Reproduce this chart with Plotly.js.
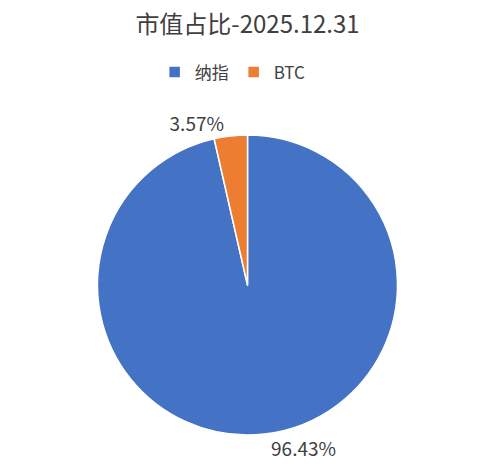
<!DOCTYPE html>
<html>
<head>
<meta charset="utf-8">
<script src="https://cdn.plot.ly/plotly-3.0.1.min.js"></script>
<style>html,body{margin:0;padding:0;background:#fff;}#chart{width:495px;height:468px;}</style>
</head>
<body>
<div id="chart"></div>
<script>
const labels = ["纳指", "BTC"];
const values = [96.43, 3.57];
const colors = ["#4472C4", "#ED7D31"];
const titleText = "市值占比-2025.12.31";

const font = '"Microsoft YaHei", "Noto Sans CJK SC", sans-serif';

const trace = {
  type: "pie",
  labels: labels,
  values: values,
  sort: false,
  direction: "clockwise",
  rotation: 0,
  marker: {colors: colors, line: {color: "#ffffff", width: 1.5}},
  textinfo: "percent",
  texttemplate: "%{value:.2f}%",
  textposition: "outside",
  outsidetextfont: {size: 19, color: "#404040", family: font},
  hoverinfo: "label+percent",
  domain: {x: [0, 1], y: [0.0705, 0.7115]},
  automargin: false
};

const layout = {
  width: 495,
  height: 468,
  margin: {l: 0, r: 0, t: 0, b: 0},
  paper_bgcolor: "#ffffff",
  font: {family: font, color: "#404040"},
  title: {text: titleText, font: {size: 24, color: "#404040", family: font}, x: 0.5, xanchor: "center", y: 0.947, yanchor: "middle"},
  showlegend: true,
  legend: {orientation: "h", x: 0.47, xanchor: "center", y: 0.845, yanchor: "middle", font: {size: 17, color: "#404040", family: font}, itemwidth: 30, traceorder: "normal"}
};

Plotly.newPlot("chart", [trace], layout, {displayModeBar: false, staticPlot: true});
</script>
</body>
</html>
